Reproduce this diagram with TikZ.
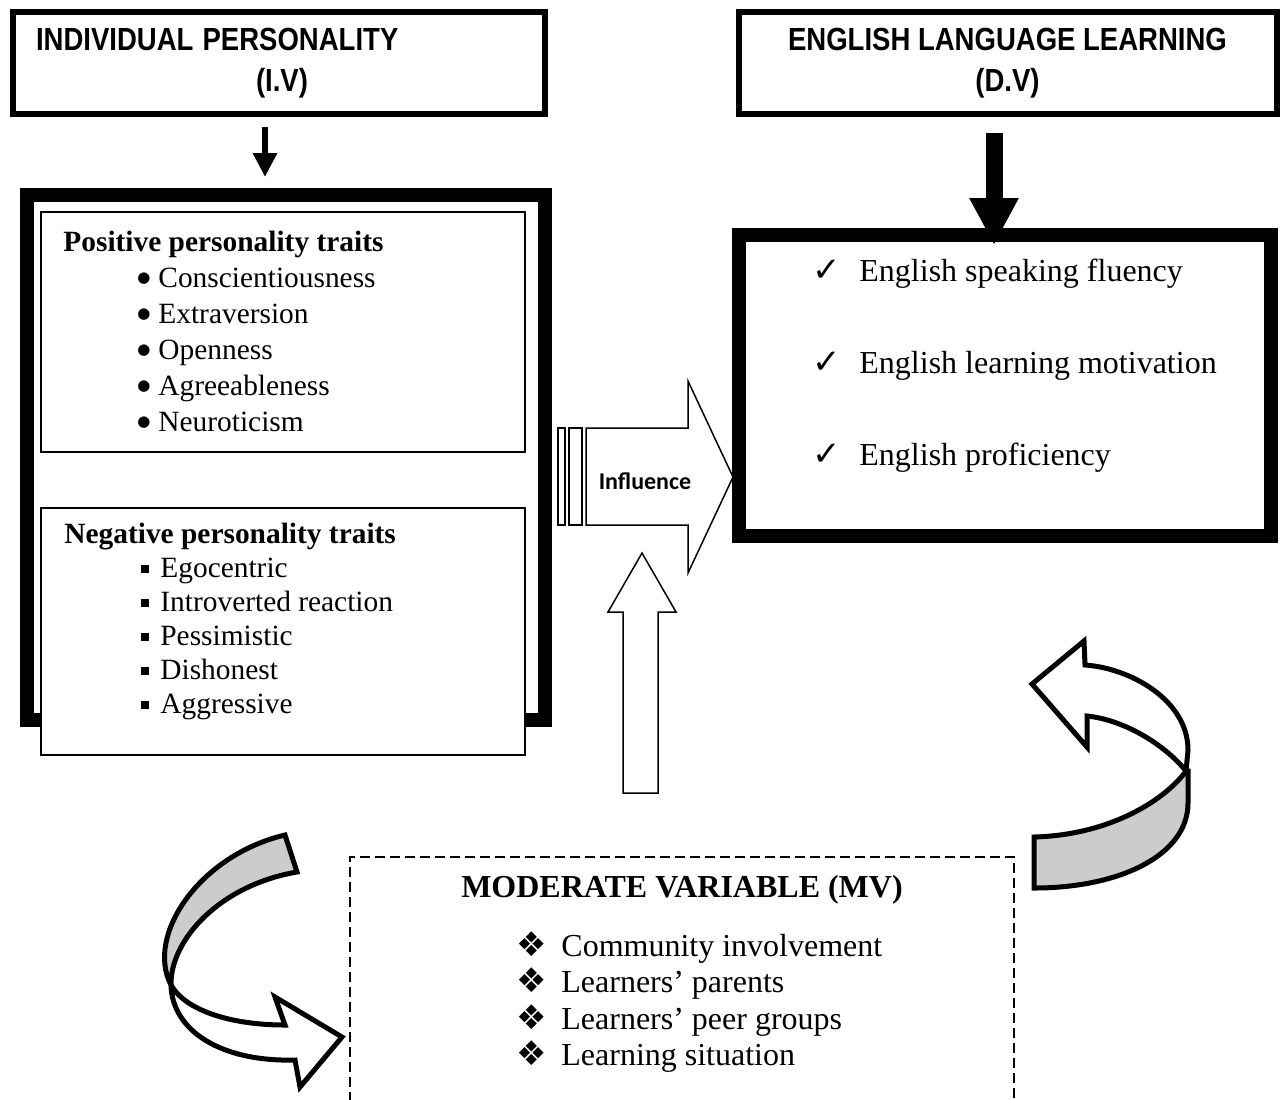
\documentclass[tikz,border=0pt]{standalone}
\usepackage{graphicx}
\usepackage{fontspec}
\setmainfont{Liberation Serif}
\newfontfamily\headfont{Liberation Sans}
\newfontfamily\calfont{Carlito}
\newfontfamily\symfont{DejaVu Sans}
\usepackage{tikz}
\usetikzlibrary{arrows.meta}

\newcommand\headline[1]{\scalebox{0.86}[1]{#1}}
\newcommand\dotitem[1]{\hspace*{37pt}\makebox[10.5pt][l]{\raisebox{2.2pt}{\symfont\fontsize{7.5}{7.5}\selectfont ●}}#1}
\newcommand\sqitem[1]{\hspace*{38.5pt}\makebox[9.5pt][l]{\rule[2.3pt]{4pt}{4pt}}#1}
\newcommand\chkitem[1]{\makebox[23.5pt][l]{\symfont\fontsize{17}{17}\selectfont ✓}#1}
\newcommand\diaitem[1]{\makebox[22.5pt][l]{\symfont\fontsize{17}{17}\selectfont ❖}#1}

\begin{document}
\begin{tikzpicture}[x=0.5pt, y=-0.5pt]
    \tikzstyle{headbox} = [rectangle, draw=black, line width=3pt, align=center, font=\headfont\bfseries\fontsize{16}{20.5}\selectfont]
    \tikzstyle{bigbox} = [rectangle, draw=black, line width=7pt]
    \tikzstyle{listbox} = [rectangle, draw=black, line width=0.75pt, fill=white, minimum width=242pt]
    \tikzstyle{listtext} = [align=left, inner sep=0pt, anchor=west]
    \tikzstyle{ivarrow} = [line width=3pt, -{Triangle[length=12pt, width=11.5pt]}, shorten <=5pt, shorten >=5.5pt]
    \tikzstyle{dvarrow} = [line width=8.5pt, -{Triangle[length=23.5pt, width=23pt]}, shorten <=8.25pt, shorten >=-8.5pt]
    \tikzstyle{blockarrow} = [draw=black, line width=0.75pt, fill=white, line join=miter]
    \tikzstyle{bandarrow} = [draw=black, line width=2.5pt, fill=white, line join=miter]
    \tikzstyle{bandshade} = [draw=black, line width=2.5pt, fill=black!20, line join=miter]
    \tikzstyle{mvline} = [draw=black, line width=1.25pt, dash pattern=on 5pt off 2.5pt]
    \useasboundingbox (0,0) rectangle (1283,1099);

    \node (iv) [headbox, align=left, text width=242.5pt, minimum width=266pt, minimum height=51pt] at (278.5,63) {\headline{INDIVIDUAL PERSONALITY}\\\hspace*{110pt}\headline{(I.V)}};
    \node (dv) [headbox, minimum width=269pt, minimum height=50.75pt] at (1007.5,62.75) {\headline{ENGLISH LANGUAGE LEARNING}\\\headline{(D.V)}};

    \node (traits) [bigbox, minimum width=259.25pt, minimum height=262.5pt] at (285.75,457.5) {};
    \node (pos) [listbox, minimum height=120pt] at (283,332) {};
    \node (neg) [listbox, minimum height=123.5pt] at (283,631.5) {};
    \node (postxt) [listtext, font=\fontsize{14.7}{18}\selectfont] at (63,331) {\textbf{Positive personality traits}\\ \dotitem{Conscientiousness}\\ \dotitem{Extraversion}\\ \dotitem{Openness}\\ \dotitem{Agreeableness}\\ \dotitem{Neuroticism}};
    \node (negtxt) [listtext, font=\fontsize{14.7}{17}\selectfont] at (64,621.5) {\textbf{Negative personality traits}\\ \sqitem{Egocentric}\\ \sqitem{Introverted reaction}\\ \sqitem{Pessimistic}\\ \sqitem{Dishonest}\\ \sqitem{Aggressive}};

    \node (el) [bigbox, minimum width=266pt, minimum height=150.5pt] at (1005,385.5) {};
    \node (eltxt) [listtext, font=\fontsize{16}{46}\selectfont] at (812,366) {\chkitem{English speaking fluency}\\ \chkitem{English learning motivation}\\ \chkitem{English proficiency}};

    \coordinate (ivfoot) at ([xshift=-6.75pt]iv.south);
    \coordinate (dvfoot) at ([xshift=-6.75pt]dv.south);
    \draw [ivarrow] (ivfoot) -- (ivfoot |- traits.north);
    \draw [dvarrow] (dvfoot) -- (dvfoot |- el.north);

    \draw [blockarrow] (558,428) rectangle (565,525);
    \draw [blockarrow] (569,428) rectangle (582,525);
    \draw [blockarrow] (586,428) -- (688,428) -- (688,381) -- (733,477) -- (688,573) -- (688,525) -- (586,525) -- cycle;
    \node (infl) [font=\calfont\bfseries\fontsize{12}{14}\selectfont] at (645,481) {Influence};
    \draw [blockarrow] (623,793) -- (623,612) -- (608,612) -- (642,553) -- (676,612) -- (658,612) -- (658,793) -- cycle;

    \draw [mvline] (350,1102) |- (1014,857) -- (1014,1102);
    \node (mvtitle) [font=\bfseries\fontsize{16}{18}\selectfont] at (682,890) {MODERATE VARIABLE (MV)};
    \node (mvlist) [listtext, font=\fontsize{16}{18.3}\selectfont] at (516,1002) {\diaitem{Community involvement}\\ \diaitem{Learners’ parents}\\ \diaitem{Learners’ peer groups}\\ \diaitem{Learning situation}};

    \draw [bandarrow] (1186,771) .. controls (1165,745) and (1125,720) .. (1087,716) -- (1087,747) -- (1032,684) -- (1084,641) -- (1085,665) .. controls (1130,668) and (1188,700) .. (1188,750) -- cycle;
    \draw [bandshade] (1034,837) .. controls (1110,835) and (1165,800) .. (1186,771) -- (1188,771) -- (1188,803) .. controls (1188,855) and (1120,888) .. (1034,888) -- cycle;

    \draw [bandshade] (285,835) .. controls (200,855) and (145,935) .. (171,985) .. controls (170,940) and (220,885) .. (297,872) -- cycle;
    \draw [bandarrow] (171,985) .. controls (185,1010) and (230,1025) .. (285,1025) -- (275,997) -- (342,1037) -- (300,1087) -- (295,1060) .. controls (220,1062) and (172,1030) .. (171,985) -- cycle;
\end{tikzpicture}
\end{document}
